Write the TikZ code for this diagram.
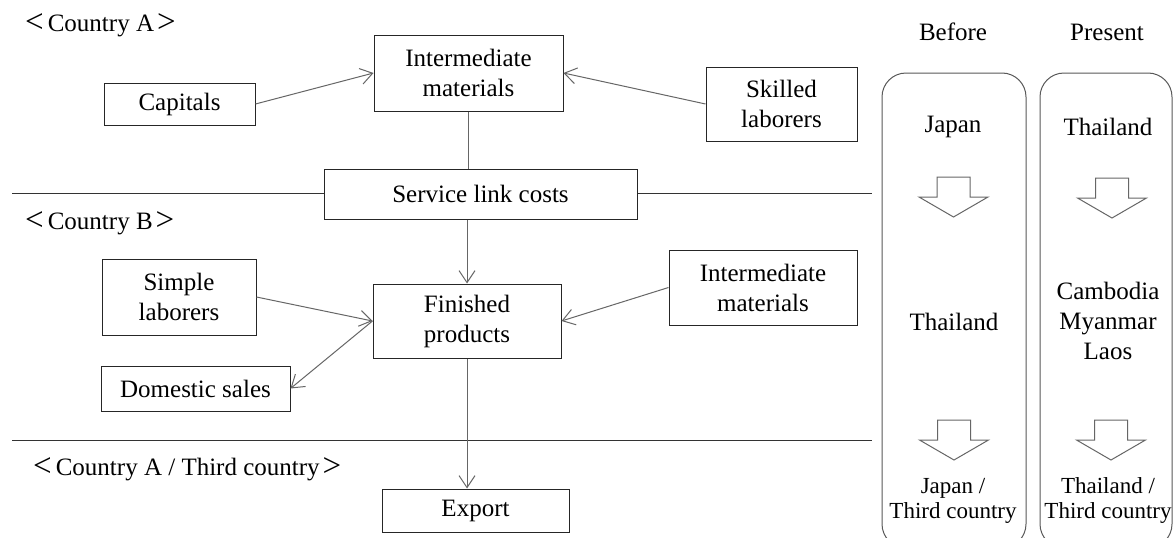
\documentclass[tikz,border=0pt]{standalone}
\usepackage{fontspec}
\setmainfont{Liberation Serif}
\newcommand{\lbr}{\hspace{4pt}{\fontsize{33}{30}\selectfont\raisebox{-1.5pt}{<}}\hspace{4pt}}
\newcommand{\rbr}{\hspace{3pt}{\fontsize{33}{30}\selectfont\raisebox{-1.5pt}{>}}}
\usetikzlibrary{arrows.meta}
\begin{document}
\begin{tikzpicture}[x=1pt,y=-1pt,
  every node/.style={font=\rmfamily\fontsize{25}{30}\selectfont, inner sep=0pt, align=center},
  box/.style={draw=black!85, line width=1pt, fill=white},
  conn/.style={draw=black!60, line width=1pt},
  arr/.style={conn, -{Straight Barb[length=12pt,width=16pt]}},
  sep/.style={draw=black!80, line width=1pt},
  panel/.style={draw=black!65, line width=1pt, rounded corners=24pt},
  small/.style={font=\rmfamily\fontsize{23}{25}\selectfont},
  blk/.style={draw=black!60, line width=1pt, fill=white},
  pics/downarrow/.style={code={\path[blk] (-16.5,0) -- (16.5,0) -- (16.5,20) -- (34.5,20) -- (0,40) -- (-34.5,20) -- (-16.5,20) -- cycle;}}
]
\clip (0,0) rectangle (1173,538);
\fill[white] (0,0) rectangle (1173,538);

% separators
\coordinate (s1a) at (12,193);
\coordinate (s1b) at (872,193);
\coordinate (s2a) at (12,440);
\coordinate (s2b) at (872,440);
\draw[sep] (s1a) -- (s1b);
\draw[sep] (s2a) -- (s2b);

% region labels
\node[anchor=west] (lblA) at (21,25) {\lbr Country A\rbr};
\node[anchor=west] (lblB) at (21,223) {\lbr Country B\rbr};
\node[anchor=west] (lblC) at (29,469) {\lbr Country A / Third country\rbr};

% boxes
\node[box, minimum width=189pt, minimum height=76pt] (im1) at (468.5,73) {Intermediate\\materials};
\node[box, minimum width=151pt, minimum height=42pt] (cap) at (179.5,104) {Capitals};
\node[box, minimum width=151pt, minimum height=74pt] (skl) at (781.5,104) {Skilled\\laborers};
\node[box, minimum width=313pt, minimum height=50pt] (svc) at (480.5,194) {Service link costs};
\node[box, minimum width=154pt, minimum height=76pt] (sim) at (179,297) {Simple\\laborers};
\node[box, minimum width=188pt, minimum height=74pt] (fin) at (467,321) {Finished\\products};
\node[box, minimum width=188pt, minimum height=75pt] (im2) at (763,287.5) {Intermediate\\materials};
\node[box, minimum width=189pt, minimum height=45pt] (dom) at (195.5,388.5) {Domestic sales};
\node[box, minimum width=187pt, minimum height=43pt] (exp) at (475.5,510.5) {Export};

% connectors
\draw[arr] (cap.east) -- (im1.west);
\draw[arr] (skl.west) -- (im1.east);
\draw[conn] (im1.south) -- (im1.south |- svc.north);
\draw[arr] (fin.north |- svc.south) -- (fin.north);
\draw[arr] (sim.east) -- (fin.west);
\draw[arr] (fin.west) -- (dom.east);
\draw[arr] (im2.west) -- (fin.east);
\draw[arr] (fin.south) -- (fin.south |- exp.north);

% right panels
\node (before) at (953,32) {Before};
\node (present) at (1107,32) {Present};
\draw[panel] (882,73) rectangle (1026,548);
\draw[panel] (1040,73) rectangle (1172,548);

\node (jp1) at (953,127) {Japan};
\node (th1) at (1108,127) {Thailand};
\pic at (953.5,177) {downarrow};
\pic at (1112,178) {downarrow};
\node (th2) at (954,322) {Thailand};
\node (cml) at (1108,321) {Cambodia\\Myanmar\\Laos};
\pic at (954,420) {downarrow};
\pic at (1111,420) {downarrow};
\node[small] (jp2) at (953,500.5) {Japan /\\Third country};
\node[small] (th3) at (1108,500.5) {Thailand /\\Third country};
\end{tikzpicture}
\end{document}
